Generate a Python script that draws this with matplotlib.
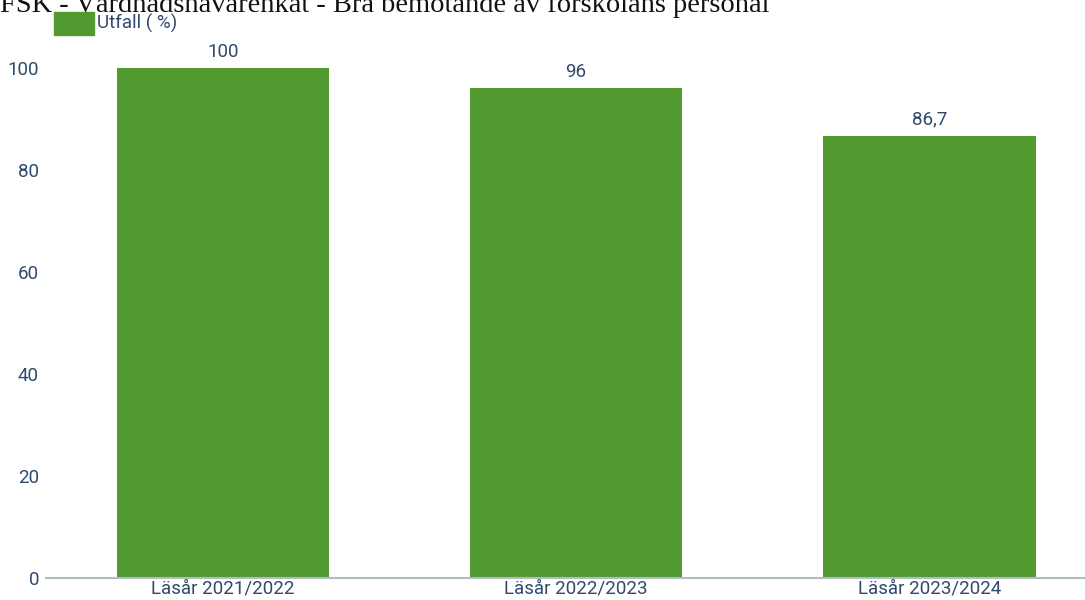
import matplotlib.pyplot as plt
from matplotlib.patches import Rectangle

plt.rcParams['font.family'] = ['Roboto', 'DejaVu Sans']

categories = ['Läsår 2021/2022', 'Läsår 2022/2023', 'Läsår 2023/2024']
values = [100, 96, 86.7]
labels = ['100', '96', '86,7']
yticks = [0, 20, 40, 60, 80, 100]

green = '#529a30'
txt = '#2f4a6b'
fs = 13.5

fig = plt.figure(figsize=(10.85, 6.0), dpi=100)
ax = fig.add_axes([46 / 1085, 22 / 600, (1085 - 46) / 1085, 510 / 600])

x = range(len(categories))
bars = ax.bar(x, values, width=0.6, color=green, zorder=2)
for b, lab in zip(bars, labels):
    ax.text(b.get_x() + b.get_width() / 2, b.get_height() + 1.4, lab,
            ha='center', va='bottom', fontsize=fs, color=txt)

ax.set_xlim(-0.5, 2.44)
ax.set_ylim(0, 100)
ax.set_xticks(list(x))
ax.set_xticklabels(categories, fontsize=fs, color=txt)
ax.set_yticks(yticks)
ax.set_yticklabels([str(v) for v in yticks], fontsize=fs, color=txt)
ax.tick_params(axis='x', length=0, pad=1)
ax.tick_params(axis='y', length=0, pad=5)

for s in ['top', 'right', 'left']:
    ax.spines[s].set_visible(False)
ax.spines['bottom'].set_color('#b0bcc8')
ax.spines['bottom'].set_linewidth(1.5)
ax.spines['bottom'].set_zorder(3)
ax.patch.set_alpha(0)

# title (partly outside the top edge, as in the original)
fig.text(0, 1 - 12 / 600, 'FSK - Vårdnadshavarenkät - Bra bemötande av förskolans personal',
         family='Liberation Serif', fontsize=20.5, color='#111111', va='baseline', ha='left')

# legend
fig.patches.append(Rectangle((54 / 1085, 1 - 35 / 600), 40 / 1085, 23 / 600,
                             transform=fig.transFigure, color=green))
fig.text(97 / 1085, 1 - 23 / 600, 'Utfall ( %)', fontsize=fs, color=txt, va='center', ha='left')

fig.savefig('out.png', dpi=100)
